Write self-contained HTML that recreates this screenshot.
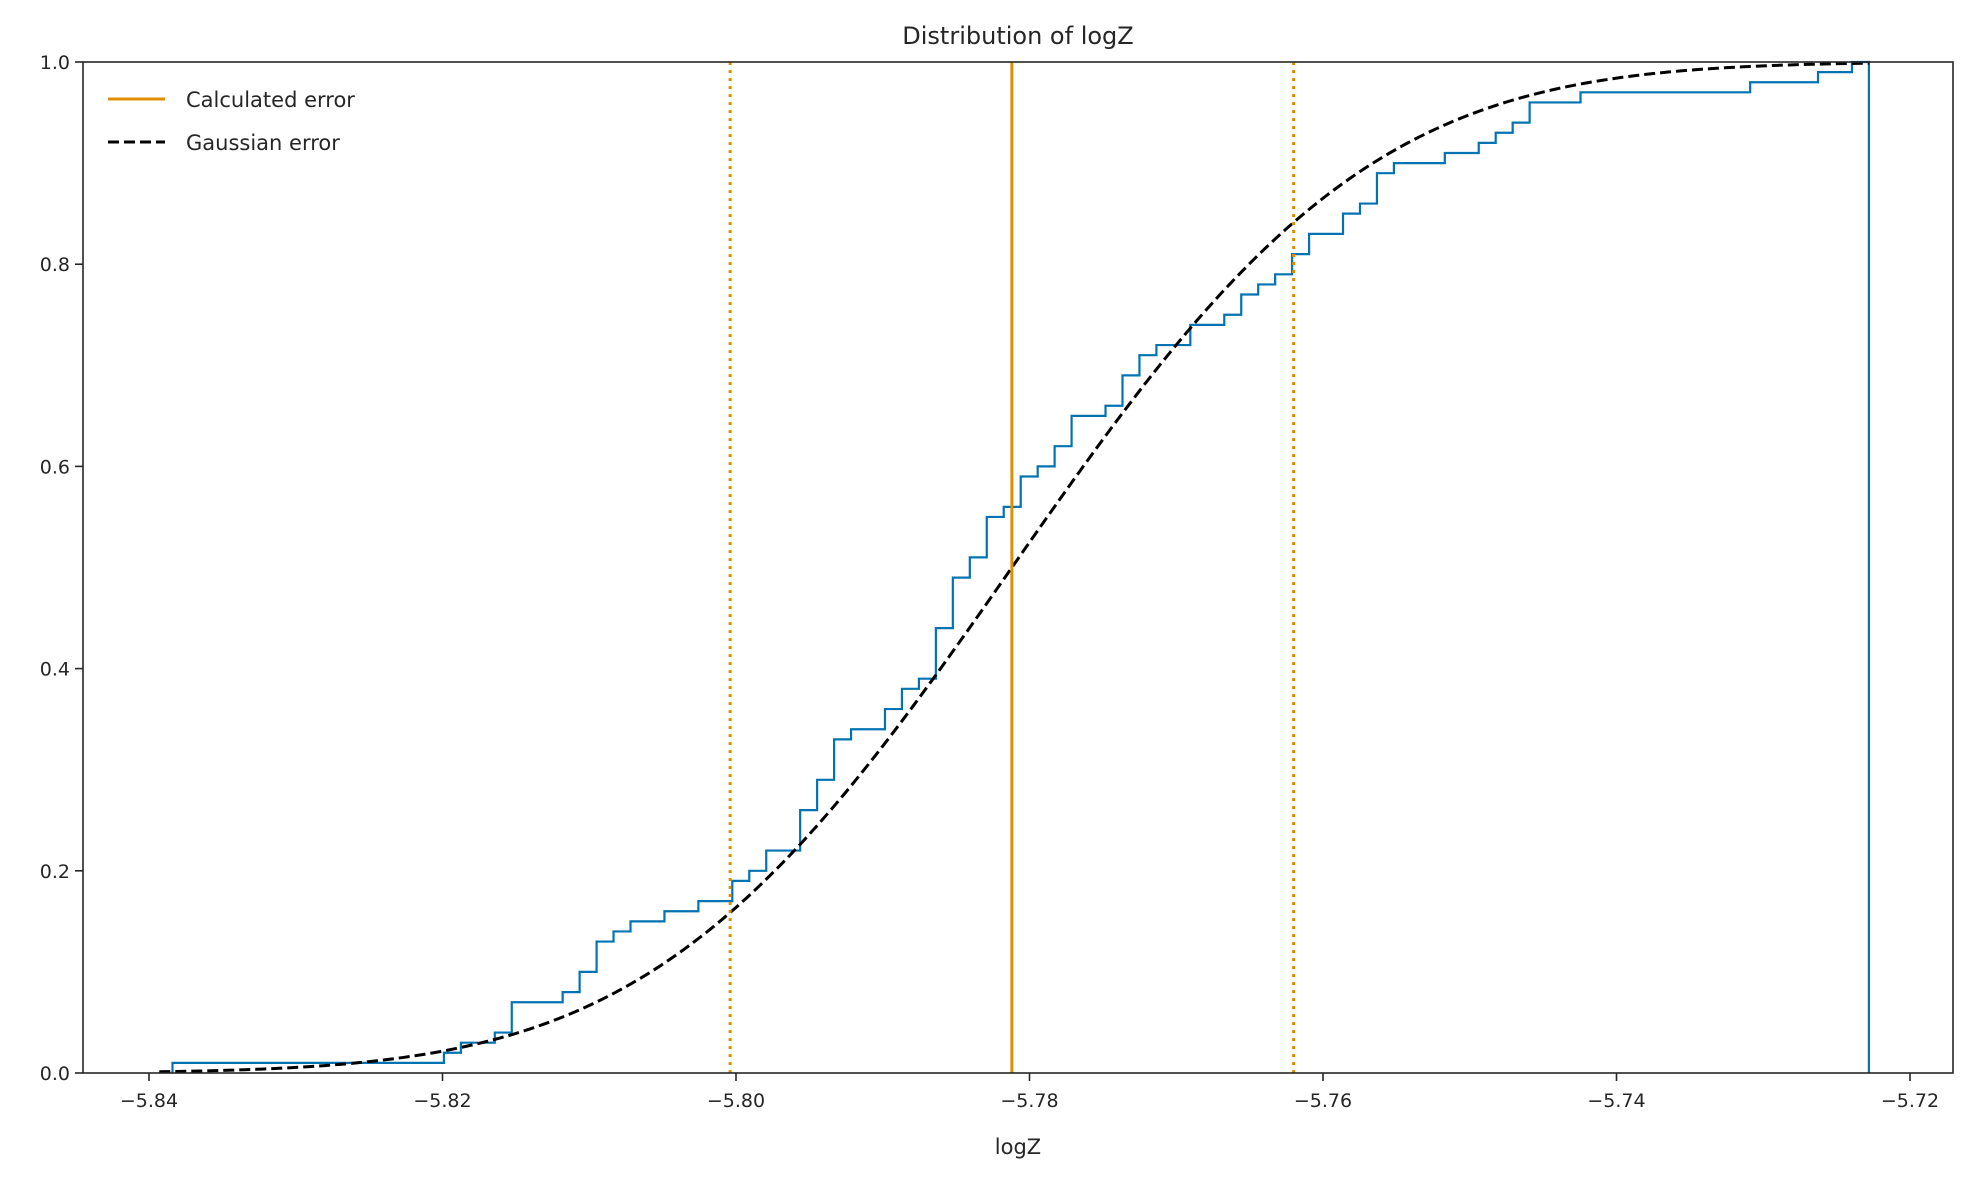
<!DOCTYPE html>
<html><head><meta charset="utf-8"><style>
html,body{margin:0;padding:0;background:#fff;}
svg text{font-family:"DejaVu Sans","Liberation Sans",sans-serif;fill:#262626;}
</style></head><body>
<svg id="chart" width="1973" height="1181" viewBox="0 0 1973 1181" xmlns="http://www.w3.org/2000/svg">
<rect width="1973" height="1181" fill="#fff"/>
<text x="1018" y="44" font-size="24" text-anchor="middle">Distribution of logZ</text>
<text x="1018" y="1154" font-size="21" text-anchor="middle">logZ</text>
<g id="plot"></g>
<g>
<line x1="108" y1="99" x2="165" y2="99" stroke="#de8f05" stroke-width="3"/>
<text x="186" y="107" font-size="21">Calculated error</text>
<line x1="108" y1="142" x2="165" y2="142" stroke="#000" stroke-width="3" stroke-dasharray="11,5"/>
<text x="186" y="150" font-size="21">Gaussian error</text>
</g>
</svg>
<script>
const xTicks = [-5.84, -5.82, -5.80, -5.78, -5.76, -5.74, -5.72];
const yTicks = [0.0, 0.2, 0.4, 0.6, 0.8, 1.0];
const binStart = -5.8384;
const binWidth = 0.001156;
const stepBins =   [0, 16, 17, 19, 20, 23, 24, 25, 26, 27, 29, 31, 33, 34, 35, 37, 38, 39, 40, 42, 43, 44, 45, 46, 47, 48, 49, 50, 51, 52, 53, 55, 56, 57, 58, 60, 62, 63, 64, 65, 66, 67, 69, 70, 71, 72, 75, 77, 78, 79, 80, 83, 93, 97, 99];
const stepValues = [0.01,0.02,0.03,0.04,0.07,0.08,0.10,0.13,0.14,0.15,0.16,0.17,0.19,0.20,0.22,0.26,0.29,0.33,0.34,0.36,0.38,0.39,0.44,0.49,0.51,0.55,0.56,0.59,0.60,0.62,0.65,0.66,0.69,0.71,0.72,0.74,0.75,0.77,0.78,0.79,0.81,0.83,0.85,0.86,0.89,0.90,0.91,0.92,0.93,0.94,0.96,0.97,0.98,0.99,1.00];
const nBins = [100];
const meanValue = [-5.7812];
const sigmaValue = [0.0192];
const curveRange = [-5.8393, -5.7228];

const L=83,R=1953,T=62,B=1073;
const xMin=-5.84-149/293.5*0.02*0+0; // placeholder not used
function xs(v){return 149+(v+5.84)/0.02*293.5;}
function ys(v){return B-v*(B-T);}
const NS="http://www.w3.org/2000/svg";
const plot=document.getElementById('plot');
function mk(tag,attrs){const e=document.createElementNS(NS,tag);for(const k in attrs)e.setAttribute(k,attrs[k]);plot.appendChild(e);return e;}

// ECDF step
let d='';
const edge=i=>binStart+i*binWidth;
d+='M'+xs(edge(stepBins[0]))+','+ys(0);
for(let i=0;i<stepBins.length;i++){
  const x=xs(edge(stepBins[i]));
  d+=' L'+x+','+ys(stepValues[i]);
  const nx=i+1<stepBins.length?xs(edge(stepBins[i+1])):xs(edge(nBins[0]));
  d+=' L'+nx+','+ys(stepValues[i]);
}
d+=' L'+xs(edge(nBins[0]))+','+ys(0);
const step=mk('path',{d:d,fill:'none',stroke:'#0173b2','stroke-width':2.2});



// Gaussian CDF
function erf(x){const s=Math.sign(x);x=Math.abs(x);const t=1/(1+0.3275911*x);const y=1-(((((1.061405429*t-1.453152027)*t)+1.421413741)*t-0.284496736)*t+0.254829592)*t*Math.exp(-x*x);return s*y;}
let gd='';
for(let i=0;i<=300;i++){const v=curveRange[0]+(curveRange[1]-curveRange[0])*i/300;const p=0.5*(1+erf((v-meanValue[0])/(sigmaValue[0]*Math.SQRT2)));gd+=(i?' L':'M')+xs(v).toFixed(2)+','+ys(p).toFixed(2);}
const gauss=mk('path',{d:gd,fill:'none',stroke:'#000','stroke-width':3,'stroke-dasharray':'11,5'});



// error lines
const mline=mk('line',{x1:xs(meanValue[0]),x2:xs(meanValue[0]),y1:T,y2:B,stroke:'#de8f05','stroke-width':3});


[-1,1].forEach(s=>{
  const v=meanValue[0]+s*sigmaValue[0];
  const l=mk('line',{x1:xs(v),x2:xs(v),y1:T,y2:B,stroke:'#de8f05','stroke-width':3,'stroke-dasharray':'3,5'});
  
  
});

// frame
const frame=mk('rect',{x:L,y:T,width:R-L,height:B-T,fill:'none',stroke:'#262626','stroke-width':1.6});



xTicks.forEach(v=>{
  const x=xs(v);
  const t=mk('line',{x1:x,x2:x,y1:B,y2:B+8,stroke:'#262626','stroke-width':1.6});
  
  
  const lb=mk('text',{x:x,y:B+34,'font-size':19,'text-anchor':'middle'});
  lb.textContent='\u2212'+Math.abs(v).toFixed(2);
  
  
});
yTicks.forEach(v=>{
  const y=ys(v);
  const t=mk('line',{x1:L-8,x2:L,y1:y,y2:y,stroke:'#262626','stroke-width':1.6});
  
  
  const lb=mk('text',{x:L-13,y:y+7,'font-size':19,'text-anchor':'end'});
  lb.textContent=v.toFixed(1);
  
  
});
</script>
</body></html>
